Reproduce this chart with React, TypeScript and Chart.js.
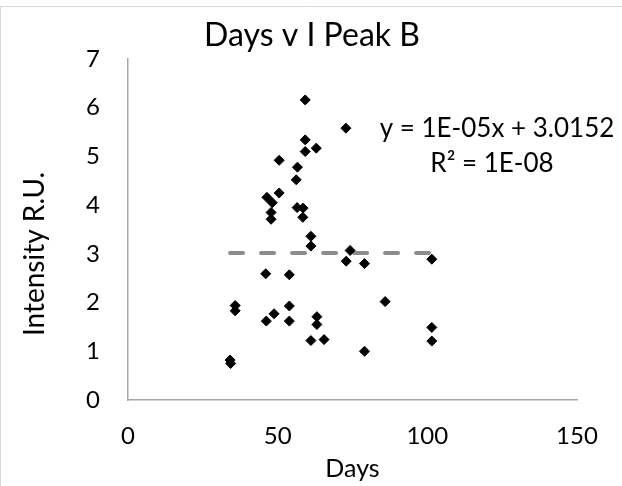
import React, { useEffect, useRef } from "react";
import { Chart, registerables } from "chart.js";

Chart.register(...registerables);

// ---- data ----
const days: number[] = [
  34.1, 34.3, 35.8, 35.8, 46.0, 46.2, 46.4, 48.2, 47.8, 47.8,
  48.8, 50.5, 50.5, 53.9, 53.9, 53.9, 56.2, 56.6, 56.5, 58.5,
  58.4, 59.2, 59.2, 59.2, 61.1, 61.1, 61.1, 62.9, 63.1, 63.1,
  65.5, 72.8, 74.2, 72.9, 79.0, 79.0, 85.9, 101.5, 101.5, 101.5,
];
const intensity: number[] = [
  0.82, 0.75, 1.94, 1.83, 2.59, 1.62, 4.16, 4.05, 3.85, 3.71,
  1.77, 4.92, 4.25, 2.57, 1.93, 1.62, 4.52, 4.78, 3.95, 3.94,
  3.75, 6.16, 5.34, 5.10, 3.36, 3.16, 1.22, 5.17, 1.71, 1.55,
  1.24, 5.58, 3.07, 2.85, 2.80, 1.00, 2.02, 2.89, 1.49, 1.21,
];
const trendSlope = 1e-5;
const trendIntercept = 3.0152;
const equationLabels: string[] = ["y = 1E-05x + 3.0152", "R² = 1E-08"];
const chartTitle = "Days v I Peak B";
const xTitle = "Days";
const yTitle = "Intensity R.U.";
const xTicks: number[] = [0, 50, 100, 150];
const yTicks: number[] = [0, 1, 2, 3, 4, 5, 6, 7];

const FONT = "Lato";
const TEXT = "#000000";

export default function App() {
  const ref = useRef<HTMLCanvasElement | null>(null);

  useEffect(() => {
    if (!ref.current) return;
    const minX = Math.min(...days);
    const maxX = Math.max(...days);

    const textPlugin = {
      id: "texts",
      beforeDraw(chart: any) {
        const ctx = chart.ctx;
        ctx.save();
        ctx.fillStyle = "#ffffff";
        ctx.fillRect(0, 0, chart.width, chart.height);
        ctx.strokeStyle = "#d9d9d9";
        ctx.lineWidth = 1;
        ctx.beginPath();
        ctx.moveTo(0.5, chart.height);
        ctx.lineTo(0.5, 6.5);
        ctx.lineTo(chart.width, 6.5);
        ctx.stroke();
        ctx.restore();
      },
      afterDraw(chart: any) {
        const ctx = chart.ctx;
        const area = chart.chartArea;
        ctx.save();
        ctx.fillStyle = TEXT;
        ctx.textAlign = "center";
        ctx.textBaseline = "middle";
        ctx.font = `32px ${FONT}`;
        ctx.fillText(chartTitle, 312, 36);
        ctx.font = `25px ${FONT}`;
        ctx.fillText(xTitle, (area.left + area.right) / 2, 469);
        ctx.font = `26px ${FONT}`;
        ctx.fillText(equationLabels[0], 497, 129);
        ctx.fillText(equationLabels[1], 492, 164);
        ctx.font = `28px ${FONT}`;
        ctx.translate(35, 254);
        ctx.rotate(-Math.PI / 2);
        ctx.fillText(yTitle, 0, 0);
        ctx.restore();
      },
    };

    const chart = new Chart(ref.current, {
      type: "scatter",
      data: {
        datasets: [
          {
            type: "line",
            data: [
              { x: minX, y: trendSlope * minX + trendIntercept },
              { x: maxX, y: trendSlope * maxX + trendIntercept },
            ],
            borderColor: "#8c8c8c",
            borderWidth: 4,
            borderDash: [13, 18],
            borderCapStyle: "round",
            pointRadius: 0,
            fill: false,
            order: 2,
          } as any,
          {
            data: days.map((d, i) => ({ x: d, y: intensity[i] })),
            pointStyle: "rectRot",
            pointRadius: 5,
            pointBackgroundColor: "#000000",
            pointBorderColor: "#000000",
            pointBorderWidth: 1,
            order: 1,
          },
        ],
      },
      options: {
        responsive: false,
        animation: false,
        layout: { padding: { left: 0, right: 45, top: 59, bottom: 0 } },
        plugins: {
          legend: { display: false },
          tooltip: { enabled: false },
          title: { display: false },
        },
        scales: {
          x: {
            type: "linear",
            min: xTicks[0],
            max: xTicks[xTicks.length - 1],
            afterBuildTicks: (s: any) => {
              s.ticks = xTicks.map((v) => ({ value: v }));
            },
            ticks: {
              font: { family: FONT, size: 24 },
              color: TEXT,
              padding: 22,
            },
            grid: { display: false, drawTicks: false },
            border: { display: true, color: "#a6a6a6", width: 1.5 },
            afterFit: (s: any) => {
              s.height = 86;
            },
          },
          y: {
            type: "linear",
            min: yTicks[0],
            max: yTicks[yTicks.length - 1],
            afterBuildTicks: (s: any) => {
              s.ticks = yTicks.map((v) => ({ value: v }));
            },
            ticks: {
              font: { family: FONT, size: 24 },
              color: TEXT,
              padding: 28,
            },
            grid: { display: false, drawTicks: false },
            border: { display: true, color: "#a6a6a6", width: 1.5 },
            afterFit: (s: any) => {
              s.width = 128;
            },
          },
        },
      },
      plugins: [textPlugin],
    });
    return () => chart.destroy();
  }, []);

  return (
    <div style={{ position: "fixed", left: 0, top: 0, width: 622, height: 486, background: "#fff" }}>
      <canvas ref={ref} width={622} height={486} style={{ display: "block" }} />
    </div>
  );
}
